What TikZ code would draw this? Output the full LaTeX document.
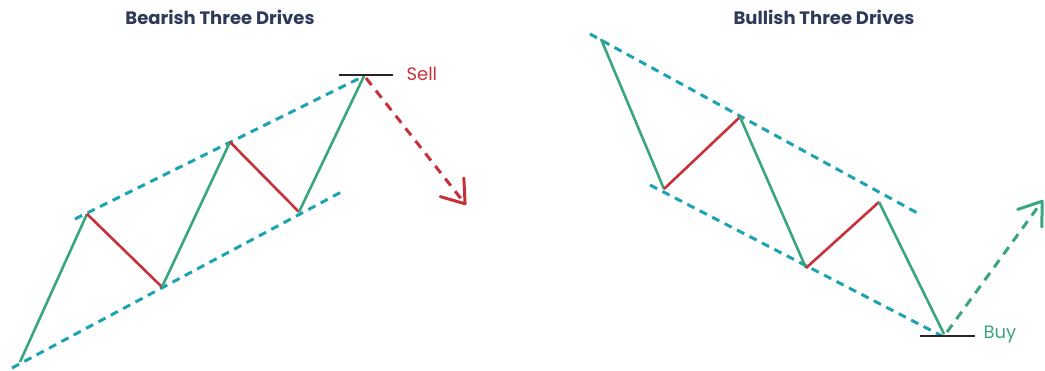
\documentclass[tikz,border=0pt]{standalone}
\usepackage{fontspec}
\setmainfont{Poppins}
\usetikzlibrary{arrows.meta}
\definecolor{upg}{HTML}{3AA67D}
\definecolor{dnr}{HTML}{C8303A}
\definecolor{trend}{HTML}{1CA3B2}
\definecolor{navy}{HTML}{2D3A5A}
\tikzset{
  upleg/.style={draw=upg, line width=2.6pt},
  dnleg/.style={draw=dnr, line width=2.6pt},
  trendline/.style={draw=trend, line width=3pt, dash pattern=on 8pt off 6pt},
  levelline/.style={draw=black!85, line width=2.6pt},
  title/.style={text=navy, font=\fontsize{18}{20}\selectfont\bfseries},
  lbl/.style={font=\fontsize{18}{20}\selectfont, anchor=west},
  barb/.style={-{Straight Barb[length=21pt,width=30pt,line width=3pt,round]}},
}
\begin{document}
\begin{tikzpicture}[x=1pt,y=-1pt]
\useasboundingbox (0,0) rectangle (1045,370);
% titles
\node[title] (t1) at (220,17) {Bearish Three Drives};
\node[title] (t2) at (824,17) {Bullish Three Drives};
% bearish points
\coordinate (a0) at (20,362);
\coordinate (a1) at (87,214);
\coordinate (a2) at (162,287);
\coordinate (a3) at (230,142);
\coordinate (a4) at (299,212);
\coordinate (a5) at (364,76);
\coordinate (au1) at (75,219);
\coordinate (al1) at (12,368);
\coordinate (al2) at (345,190);
\coordinate (sl) at (339,75);
\coordinate (sr) at (393,75);
\coordinate (sa) at (366,78);
\coordinate (sb) at (466,205);
\path[trendline] (au1) -- (a5);
\path[trendline] (al1) -- (al2);
\path[upleg] (a0) -- (a1);
\path[dnleg] (a1) -- (a2);
\path[upleg] (a2) -- (a3);
\path[dnleg] (a3) -- (a4);
\path[upleg] (a4) -- (a5);
\path[levelline] (sl) -- (sr);
\draw[draw=dnr, line width=3pt, dash pattern=on 9pt off 7pt, barb] (sa) -- (sb);
\node[lbl, text=dnr] (sell) at (403,74) {Sell};
% bullish points
\coordinate (b0) at (601,39);
\coordinate (b1) at (664,189);
\coordinate (b2) at (740,117);
\coordinate (b3) at (806,268);
\coordinate (b4) at (879,202);
\coordinate (b5) at (944,334);
\coordinate (bu1) at (590,34);
\coordinate (bu2) at (921,215);
\coordinate (bl1) at (650,185);
\coordinate (bl2) at (942,336);
\coordinate (bl) at (920,336);
\coordinate (br) at (975,336);
\coordinate (ba) at (947,332);
\coordinate (bb) at (1043,200);
\path[trendline] (bu1) -- (bu2);
\path[trendline] (bl1) -- (bl2);
\path[upleg] (b0) -- (b1);
\path[dnleg] (b1) -- (b2);
\path[upleg] (b2) -- (b3);
\path[dnleg] (b3) -- (b4);
\path[upleg] (b4) -- (b5);
\path[levelline] (bl) -- (br);
\draw[draw=upg, line width=3pt, dash pattern=on 9pt off 7pt, barb] (ba) -- (bb);
\node[lbl, text=upg] (buy) at (980,335) {Buy};
\end{tikzpicture}
\end{document}
